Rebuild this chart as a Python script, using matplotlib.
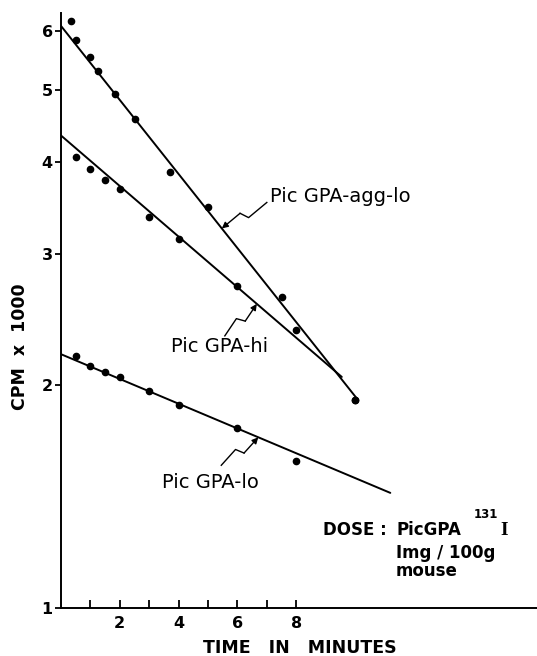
import matplotlib
matplotlib.use("Agg")
import matplotlib.pyplot as plt
import numpy as np
from matplotlib.lines import Line2D
from matplotlib.transforms import IdentityTransform

# --------- DATI ---------
t_agg = [0.33, 0.5, 1.0, 1.25, 1.85, 2.5, 3.7, 5.0, 7.5, 10.0]
cpm_agg = [6.20, 5.84, 5.54, 5.30, 4.93, 4.57, 3.88, 3.48, 2.63, 1.91]

t_hi = [0.5, 1.0, 1.5, 2.0, 3.0, 4.0, 6.0, 8.0, 10.0]
cpm_hi = [4.06, 3.91, 3.78, 3.67, 3.37, 3.15, 2.72, 2.37, 1.91]

t_lo = [0.5, 1.0, 1.5, 2.0, 3.0, 4.0, 6.0, 8.0]
cpm_lo = [2.19, 2.12, 2.08, 2.05, 1.96, 1.88, 1.75, 1.58]

# rette di regressione disegnate a mano
fit_agg_t, fit_agg_v = [0, 10.05], [6.10, 1.92]
fit_hi_t, fit_hi_v = [0, 9.55], [4.34, 2.05]
fit_lo_t, fit_lo_v = [0, 11.2], [2.20, 1.43]

y_ticks = [1, 2, 3, 4, 5, 6]
x_ticks = [1, 2, 3, 4, 5, 6, 7, 8]
x_labels = ["", "2", "", "4", "", "6", "", "8"]

W, H = 537, 656
fig = plt.figure(figsize=(W / 100, H / 100), dpi=100)
ax = fig.add_axes([61 / W, 48 / H, (W - 61) / W, 595 / H])

for t, v in [(fit_agg_t, fit_agg_v), (fit_hi_t, fit_hi_v), (fit_lo_t, fit_lo_v)]:
    ax.plot(t, v, color="black", linewidth=1.4, solid_capstyle="round")
for t, v in [(t_agg, cpm_agg), (t_hi, cpm_hi), (t_lo, cpm_lo)]:
    ax.plot(t, v, "o", color="black", markersize=4.5, linestyle="none")

ax.set_yscale("log")
ax.set_ylim(1, 6.35)
ax.set_xlim(0, 16.19)
ax.set_yticks(y_ticks)
ax.set_yticklabels([str(v) for v in y_ticks])
ax.yaxis.set_minor_locator(matplotlib.ticker.NullLocator())
ax.set_xticks(x_ticks)
ax.set_xticklabels(x_labels)

for s in ["top", "right"]:
    ax.spines[s].set_visible(False)
ax.spines["left"].set_linewidth(1.4)
ax.spines["bottom"].set_linewidth(1.4)
ax.tick_params(axis="x", direction="in", length=6, width=1.3, pad=6, labelsize=11.5)
ax.tick_params(axis="y", direction="out", length=4, width=1.3, pad=2, labelsize=11.5)
for lab in ax.get_xticklabels() + ax.get_yticklabels():
    lab.set_fontweight("bold")

ax.set_ylabel("CPM  x  1000", fontsize=12.5, fontweight="bold")
ax.yaxis.set_label_coords(-0.068, 0.44)
fig.text(300 / W, 1 - 648 / H, "TIME   IN   MINUTES", fontsize=12.5,
         fontweight="bold", ha="center", va="center")


# --------- FRECCE A ZIG-ZAG ---------
def freccia(t_tip, fit_t, fit_v, dx, dy):
    v_tip = 10 ** np.interp(t_tip, fit_t, np.log10(fit_v))
    tip = ax.transData.transform((t_tip, v_tip))
    tail = tip + np.array([dx, dy])
    d = tip - tail
    n = np.array([-d[1], d[0]]) / np.hypot(*d)
    p1 = tail + 0.45 * d + 4 * n
    p2 = tail + 0.55 * d - 4 * n
    xs = [tail[0], p1[0], p2[0]]
    ys = [tail[1], p1[1], p2[1]]
    fig.add_artist(Line2D(xs, ys, color="black", linewidth=1.0,
                          transform=IdentityTransform()))
    ax.annotate("", xy=tip, xytext=p2, xycoords="figure pixels",
                textcoords="figure pixels",
                arrowprops=dict(arrowstyle="-|>", color="black", lw=1.0,
                                mutation_scale=9, shrinkA=0, shrinkB=0))


freccia(5.47, fit_agg_t, fit_agg_v, 45, 26)
freccia(6.66, fit_hi_t, fit_hi_v, -32, -32)
freccia(6.71, fit_lo_t, fit_lo_v, -37, -28)

fig.text(270 / W, 1 - 197 / H, "Pic GPA-agg-lo", fontsize=14, va="center")
fig.text(171 / W, 1 - 347 / H, "Pic GPA-hi", fontsize=14, va="center")
fig.text(162 / W, 1 - 483 / H, "Pic GPA-lo", fontsize=14, va="center")

# --------- DOSE ---------
fig.text(323 / W, 1 - 535 / H, "DOSE :", fontsize=12, fontweight="bold", va="baseline")
fig.text(396 / W, 1 - 535 / H, "PicGPA", fontsize=12, fontweight="bold", va="baseline")
fig.text(474 / W, 1 - 518 / H, "131", fontsize=8.5, fontweight="bold", va="baseline")
fig.text(500 / W, 1 - 535 / H, "I", fontsize=14, fontweight="bold", va="baseline",
         family="Liberation Serif")
fig.text(396 / W, 1 - 558 / H, "Img / 100g", fontsize=12, fontweight="bold", va="baseline")
fig.text(396 / W, 1 - 576 / H, "mouse", fontsize=12, fontweight="bold", va="baseline")

fig.savefig("out.png", dpi=100)
